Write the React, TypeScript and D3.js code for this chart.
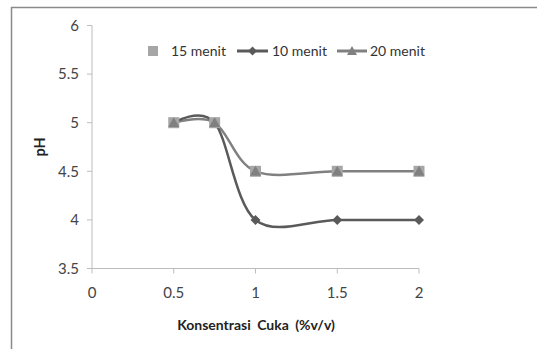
import React from "react";
import * as d3 from "d3";

const xValues = [0.5, 0.75, 1, 1.5, 2];
const series15 = [5, 5, 4.5, 4.5, 4.5];
const series10 = [5, 5, 4, 4, 4];
const series20 = [5, 5, 4.5, 4.5, 4.5];
const xTicks = [0, 0.5, 1, 1.5, 2];
const yTicks = [3.5, 4, 4.5, 5, 5.5, 6];
const legendLabels = ["15 menit", "10 menit", "20 menit"];

const W = 537, H = 349;
const font = "Lato, 'Open Sans', 'DejaVu Sans', sans-serif";

export default function App() {
  const x = d3.scaleLinear().domain([0, 2]).range([92, 419]);
  const y = d3.scaleLinear().domain([3.5, 6]).range([268.5, 25.5]);
  const line = d3
    .line<number>()
    .x((_, i) => x(xValues[i]))
    .y((d) => y(d))
    .curve(d3.curveCatmullRom.alpha(0));

  const c15 = "#a6a6a6";
  const c10 = "#5a5a5a";
  const c20 = "#808080";

  const diamond = (cx: number, cy: number, r: number) =>
    `M${cx},${cy - r}L${cx + r},${cy}L${cx},${cy + r}L${cx - r},${cy}Z`;
  const tri = (cx: number, cy: number, r: number) =>
    `M${cx},${cy - r}L${cx + r},${cy + r * 0.8}L${cx - r},${cy + r * 0.8}Z`;

  return (
    <svg
      width={W}
      height={H}
      style={{ position: "absolute", left: 0, top: 0, fontFamily: font }}
    >
      <rect width={W} height={H} fill="#fff" />
      {/* frame */}
      <line x1={11} y1={7.5} x2={W} y2={7.5} stroke="#8a8a8a" strokeWidth={1.5} />
      <line x1={11.5} y1={7} x2={11.5} y2={H} stroke="#8a8a8a" strokeWidth={1.5} />

      {/* axes */}
      <line x1={x(0)} y1={y(6)} x2={x(0)} y2={y(3.5)} stroke="#bdbdbd" strokeWidth={1} />
      <line x1={x(0)} y1={y(3.5)} x2={x(2)} y2={y(3.5)} stroke="#bdbdbd" strokeWidth={1} />
      {yTicks.map((t) => (
        <g key={"y" + t}>
          <line x1={x(0) - 5} x2={x(0)} y1={y(t)} y2={y(t)} stroke="#bdbdbd" />
          <text x={79} y={y(t)} dy="0.35em" textAnchor="end" fontSize={15} fill="#444">
            {t}
          </text>
        </g>
      ))}
      {xTicks.map((t) => (
        <g key={"x" + t}>
          <line x1={x(t)} x2={x(t)} y1={y(3.5)} y2={y(3.5) + 5} stroke="#bdbdbd" />
          <text x={x(t)} y={293} dy="0.35em" textAnchor="middle" fontSize={15} fill="#444">
            {t}
          </text>
        </g>
      ))}
      <text
        x={256}
        y={325}
        dy="0.35em"
        textAnchor="middle"
        fontSize={14}
        fontWeight="bold"
        fill="#222"
        style={{ wordSpacing: "3px" }}
      >
        Konsentrasi Cuka (%v/v)
      </text>
      <text
        transform={`translate(40,147) rotate(-90)`}
        dy="0.35em"
        textAnchor="middle"
        fontSize={14.5}
        fontWeight="bold"
        fill="#222"
      >
        pH
      </text>

      {/* series lines */}
      <path d={line(series20) || ""} fill="none" stroke={c20} strokeWidth={2.5} />
      <path d={line(series10) || ""} fill="none" stroke={c10} strokeWidth={2.5} />

      {/* markers */}
      {series10.map((v, i) => (
        <path key={"d" + i} d={diamond(x(xValues[i]), y(v), 5)} fill={c10} />
      ))}
      {series15.map((v, i) => (
        <rect
          key={"s" + i}
          x={x(xValues[i]) - 5.5}
          y={y(v) - 5.5}
          width={11}
          height={11}
          fill={c15}
        />
      ))}
      {series20.map((v, i) => (
        <path key={"t" + i} d={tri(x(xValues[i]), y(v), 5.5)} fill={c20} />
      ))}

      {/* legend */}
      <rect x={148} y={46} width={10} height={10} fill={c15} />
      <text x={171} y={51} dy="0.35em" fontSize={14} fill="#333">
        {legendLabels[0]}
      </text>
      <line x1={237} x2={268} y1={51} y2={51} stroke={c10} strokeWidth={3} />
      <path d={diamond(252.5, 51, 4.5)} fill={c10} />
      <text x={272} y={51} dy="0.35em" fontSize={14} fill="#333">
        {legendLabels[1]}
      </text>
      <line x1={337} x2={367} y1={51} y2={51} stroke={c20} strokeWidth={3} />
      <path d={tri(352, 51, 5)} fill={c20} />
      <text x={370} y={51} dy="0.35em" fontSize={14} fill="#333">
        {legendLabels[2]}
      </text>
    </svg>
  );
}
